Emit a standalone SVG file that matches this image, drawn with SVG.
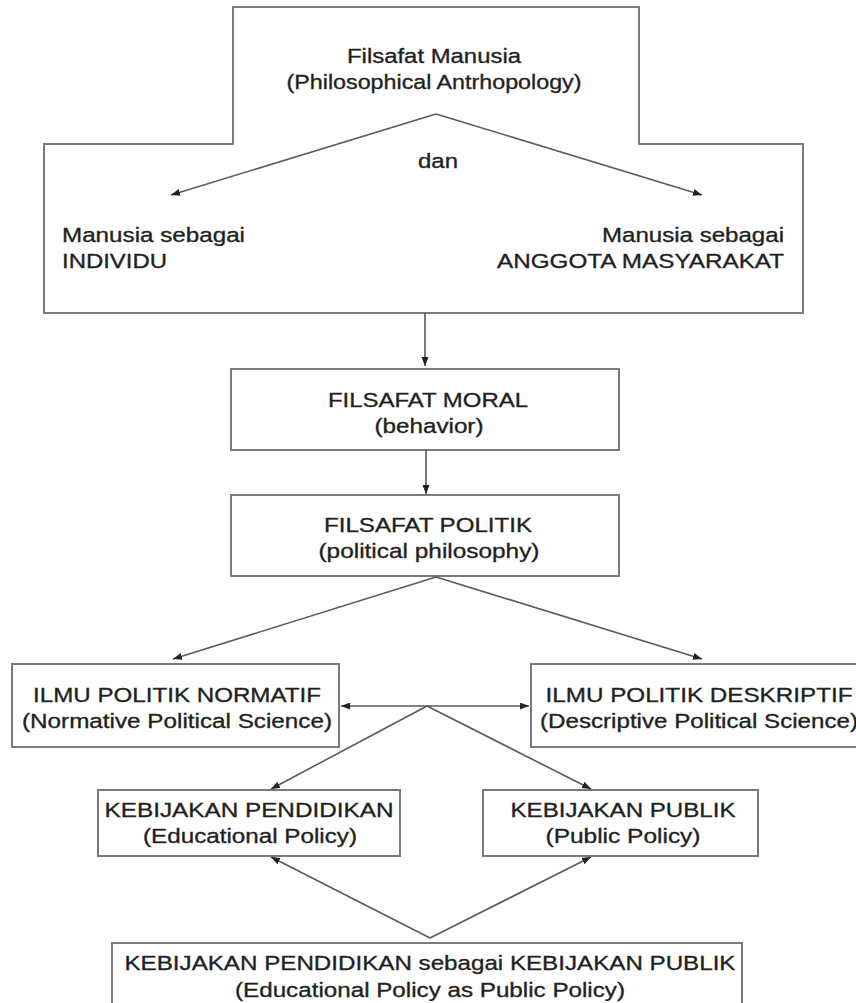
<svg xmlns="http://www.w3.org/2000/svg" width="856" height="1003" viewBox="0 0 856 1003">
<style>
.box{fill:#fff;stroke:#7a7a7a;stroke-width:2}
.ln{fill:none;stroke:#5a5a5a;stroke-width:1.6}
text{font-family:"Liberation Sans",Arial,sans-serif;font-size:20.5px;fill:#1e1e1e;stroke:#2a2a2a;stroke-width:0.35}
.m{text-anchor:middle}
.e{text-anchor:end}
</style>
<defs>
<marker id="ah" markerUnits="userSpaceOnUse" markerWidth="10" markerHeight="8" refX="9" refY="3.5" orient="auto">
<path d="M0,0 L9,3.5 L0,7 z" fill="#222"/>
</marker>
<marker id="as" markerUnits="userSpaceOnUse" markerWidth="10" markerHeight="8" refX="0" refY="3.5" orient="auto">
<path d="M9,0 L0,3.5 L9,7 z" fill="#222"/>
</marker>
</defs>
<rect width="856" height="1003" fill="#fff"/>
<g id="manusia">
<path class="box" d="M233,7 H639 V144 H803 V313 H44 V144 H233 Z"/>
<text class="m" x="434" y="63" textLength="174" lengthAdjust="spacingAndGlyphs">Filsafat Manusia</text>
<text class="m" x="434" y="89" textLength="295" lengthAdjust="spacingAndGlyphs">(Philosophical Antrhopology)</text>
<text class="m" x="438" y="168" textLength="40" lengthAdjust="spacingAndGlyphs">dan</text>
<text x="62" y="242" textLength="183" lengthAdjust="spacingAndGlyphs">Manusia sebagai</text>
<text x="62" y="268" textLength="105" lengthAdjust="spacingAndGlyphs">INDIVIDU</text>
<text class="e" x="784" y="242" textLength="182" lengthAdjust="spacingAndGlyphs">Manusia sebagai</text>
<text class="e" x="784" y="268" textLength="287" lengthAdjust="spacingAndGlyphs">ANGGOTA MASYARAKAT</text>
</g>
<g id="moral">
<rect class="box" x="231" y="369" width="388" height="81"/>
<text class="m" x="428" y="407" textLength="200" lengthAdjust="spacingAndGlyphs">FILSAFAT MORAL</text>
<text class="m" x="429" y="433" textLength="109" lengthAdjust="spacingAndGlyphs">(behavior)</text>
</g>
<g id="politik">
<rect class="box" x="231" y="495" width="388" height="81"/>
<text class="m" x="428" y="532" textLength="208" lengthAdjust="spacingAndGlyphs">FILSAFAT POLITIK</text>
<text class="m" x="429" y="558" textLength="221" lengthAdjust="spacingAndGlyphs">(political philosophy)</text>
</g>
<g id="normatif">
<rect class="box" x="12" y="664" width="327" height="83"/>
<text class="m" x="177" y="702" textLength="288" lengthAdjust="spacingAndGlyphs">ILMU POLITIK NORMATIF</text>
<text class="m" x="177" y="728" textLength="310" lengthAdjust="spacingAndGlyphs">(Normative Political Science)</text>
</g>
<g id="deskriptif">
<rect class="box" x="531" y="664" width="340" height="83"/>
<text class="m" x="699" y="702" textLength="307" lengthAdjust="spacingAndGlyphs">ILMU POLITIK DESKRIPTIF</text>
<text class="m" x="699" y="728" textLength="318" lengthAdjust="spacingAndGlyphs">(Descriptive Political Science)</text>
</g>
<g id="pendidikan">
<rect class="box" x="98" y="790" width="302" height="66"/>
<text class="m" x="249" y="817" textLength="289" lengthAdjust="spacingAndGlyphs">KEBIJAKAN PENDIDIKAN</text>
<text class="m" x="250" y="843" textLength="214" lengthAdjust="spacingAndGlyphs">(Educational Policy)</text>
</g>
<g id="publik">
<rect class="box" x="483" y="790" width="275" height="66"/>
<text class="m" x="623" y="817" textLength="225" lengthAdjust="spacingAndGlyphs">KEBIJAKAN PUBLIK</text>
<text class="m" x="623" y="843" textLength="155" lengthAdjust="spacingAndGlyphs">(Public Policy)</text>
</g>
<g id="gabungan">
<rect class="box" x="112" y="943" width="630" height="75"/>
<text class="m" x="430" y="970" textLength="611" lengthAdjust="spacingAndGlyphs">KEBIJAKAN PENDIDIKAN sebagai KEBIJAKAN PUBLIK</text>
<text class="m" x="430" y="997" textLength="390" lengthAdjust="spacingAndGlyphs">(Educational Policy as Public Policy)</text>
</g>
<g id="connectors">
<path class="ln" d="M436,114 L171,195" marker-end="url(#ah)"/>
<path class="ln" d="M436,114 L702,195" marker-end="url(#ah)"/>
<path class="ln" d="M425,313 L425,366" marker-end="url(#ah)"/>
<path class="ln" d="M426,450 L426,494" marker-end="url(#ah)"/>
<path class="ln" d="M436,577 L173,659" marker-end="url(#ah)"/>
<path class="ln" d="M436,577 L702,659" marker-end="url(#ah)"/>
<path class="ln" d="M341,706 L529,706" marker-start="url(#as)" marker-end="url(#ah)"/>
<path class="ln" d="M427,706 L271,789" marker-end="url(#ah)"/>
<path class="ln" d="M427,706 L591,789" marker-end="url(#ah)"/>
<path class="ln" d="M430,938 L271,857" marker-end="url(#ah)"/>
<path class="ln" d="M430,938 L591,857" marker-end="url(#ah)"/>
</g>
</svg>
